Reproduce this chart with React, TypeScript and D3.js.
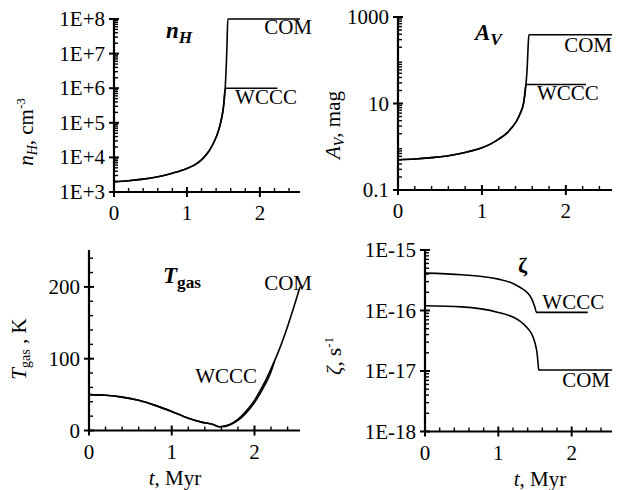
import React from "react";
import * as d3 from "d3";

// ---------- data ----------
const T_MAX = 2.55;
const xMajorTicks = [0, 1, 2];

// n_H, cm^-3
const nhSharedT = [0, 0.2, 0.4, 0.6, 0.8, 1.0, 1.1, 1.2, 1.3, 1.4, 1.45, 1.5, 1.525];
const nhSharedV = [2000, 2120, 2350, 2750, 3500, 4800, 6000, 8500, 15000, 38000, 80000, 280000, 1000000];
const nhComT = [1.54, 1.55, 1.56, 2.55];
const nhComV = [5e6, 2e7, 1e8, 1e8];
const nhWcccT = [2.24];
const nhWcccV = [1e6];
const nhTicks = [1e3, 1e4, 1e5, 1e6, 1e7, 1e8];

// A_V, mag
const avSharedT = [0, 0.2, 0.4, 0.6, 0.8, 1.0, 1.1, 1.2, 1.3, 1.4, 1.45, 1.5, 1.525];
const avSharedV = [0.5, 0.52, 0.56, 0.62, 0.74, 0.95, 1.15, 1.5, 2.1, 3.6, 5.5, 11, 27.5];
const avComT = [1.54, 1.55, 1.56, 2.55];
const avComV = [70, 200, 390, 390];
const avWcccT = [2.24];
const avWcccV = [27.5];
const avTicks = [0.1, 10, 1000];

// T_gas, K
const tgSharedT = [0, 0.2, 0.4, 0.6, 0.8, 1.0, 1.2, 1.36, 1.5, 1.57];
const tgSharedV = [50, 49, 46.5, 42, 35, 26.5, 17, 11.7, 8.5, 5.3];
const tgComT = [1.6, 1.7, 1.8, 1.9, 2.0, 2.1, 2.2, 2.3, 2.4, 2.5, 2.55];
const tgComV = [5.5, 8.5, 15.5, 27, 42, 62, 86, 113, 145, 181, 200];
const tgWcccT = [1.6, 1.7, 1.8, 1.9, 2.0, 2.1, 2.2, 2.245];
const tgWcccV = [5.2, 7.8, 14, 24.5, 39, 58, 82, 97];
const tgTicks = [0, 100, 200];

// zeta, s^-1
const zWcccT = [0, 0.5, 1.0, 1.2, 1.3, 1.4, 1.45, 1.5, 1.52, 2.22];
const zWcccV = [4.15e-16, 3.9e-16, 3.3e-16, 2.8e-16, 2.4e-16, 1.95e-16, 1.6e-16, 1.12e-16, 9.3e-17, 9.3e-17];
const zComT = [0, 0.5, 1.0, 1.2, 1.3, 1.4, 1.45, 1.5, 1.53, 1.545, 1.55, 2.55];
const zComV = [1.2e-16, 1.15e-16, 9.3e-17, 7.8e-17, 6.6e-17, 5.1e-17, 4.2e-17, 2.9e-17, 1.9e-17, 1.2e-17, 1.04e-17, 1.04e-17];
const zTicks = [1e-18, 1e-17, 1e-16, 1e-15];

const FONT = '"Liberation Serif"';
const BASE = 24; // render at 24px and scale down

type Pt = [number, number];
const zip = (t: number[], v: number[]): Pt[] => t.map((d, i) => [d, v[i]]);

const expFmt = (v: number) => {
  const e = Math.round(Math.log10(v));
  return e >= 0 ? `1E+${e}` : `1E-${-e}`;
};

function Txt(props: {
  x: number; y: number; size?: number; anchor?: string; rotate?: number;
  bold?: boolean; italic?: boolean; children: React.ReactNode;
}) {
  const size = props.size ?? 21;
  const k = size / BASE;
  const rot = props.rotate ? ` rotate(${props.rotate})` : "";
  return (
    <text
      transform={`translate(${props.x},${props.y})${rot} scale(${k})`}
      style={{ fontFamily: FONT, fontSize: BASE }}
      fontWeight={props.bold ? "bold" : "normal"}
      fontStyle={props.italic ? "italic" : "normal"}
      textAnchor={props.anchor ?? "start"}
      fill="#000"
    >
      {props.children}
    </text>
  );
}

interface Lbl { text: string; t: number; v: number; dx: number; dy: number; anchor: string }
interface PanelCfg {
  left: number; right: number; top: number; bottom: number;
  log: boolean; yDomain: [number, number];
  yTicks: number[]; yFmt: (v: number) => string; yMinor: number[];
  series: Pt[][];
  labels: Lbl[];
  title: React.ReactNode;
  yTitle: React.ReactNode; yTitleX: number; yTitleY: number;
  xTitle?: boolean; xTitleX?: number;
}

function logMinor(lo: number, hi: number) {
  const out: number[] = [];
  for (let e = Math.round(Math.log10(lo)); e < Math.round(Math.log10(hi)); e++) {
    for (let k = 2; k <= 9; k++) out.push(k * Math.pow(10, e));
  }
  return out;
}

function Panel({ c }: { c: PanelCfg }) {
  const x = d3.scaleLinear().domain([0, T_MAX]).range([c.left, c.right]);
  const y = (c.log ? d3.scaleLog() : d3.scaleLinear()).domain(c.yDomain).range([c.bottom, c.top]) as d3.ScaleContinuousNumeric<number, number>;
  const line = d3.line<Pt>().x((d) => x(d[0])).y((d) => y(d[1])).curve(d3.curveMonotoneX);
  const xMinor = d3.range(0.2, T_MAX, 0.2).filter((v) => Math.abs(v - Math.round(v)) > 1e-6);
  return (
    <g>
      {c.series.map((s, i) => (
        <path key={i} d={line(s) || ""} fill="none" stroke="#000" strokeWidth={1.6} />
      ))}
      <line x1={c.left} x2={c.left} y1={c.top - 1} y2={c.bottom + 1} stroke="#000" strokeWidth={2.2} />
      <line x1={c.left - 1} x2={c.right} y1={c.bottom} y2={c.bottom} stroke="#000" strokeWidth={2.2} />
      {c.yMinor.map((v, i) => (
        <line key={"ym" + i} x1={c.left} x2={c.left + 4} y1={y(v)} y2={y(v)} stroke="#000" strokeWidth={1.4} />
      ))}
      {c.yTicks.map((v, i) => (
        <g key={"yt" + i}>
          <line x1={c.left - 5} x2={c.left + 5} y1={y(v)} y2={y(v)} stroke="#000" strokeWidth={2} />
          <Txt x={c.left - 9} y={y(v) + 7} anchor="end">{c.yFmt(v)}</Txt>
        </g>
      ))}
      {xMinor.map((v, i) => (
        <line key={"xm" + i} x1={x(v)} x2={x(v)} y1={c.bottom} y2={c.bottom - 4} stroke="#000" strokeWidth={1.4} />
      ))}
      {xMajorTicks.map((v, i) => (
        <g key={"xt" + i}>
          <line x1={x(v)} x2={x(v)} y1={c.bottom - 5} y2={c.bottom + 5} stroke="#000" strokeWidth={2} />
          <Txt x={x(v)} y={c.bottom + 28} anchor="middle">{String(v)}</Txt>
        </g>
      ))}
      {c.labels.map((l, i) => (
        <Txt key={"l" + i} x={x(l.t) + l.dx} y={y(l.v) + l.dy} anchor={l.anchor}>{l.text}</Txt>
      ))}
      {c.title}
      <Txt x={c.yTitleX} y={c.yTitleY} rotate={-90} anchor="middle">{c.yTitle}</Txt>
      {c.xTitle && (
        <Txt x={c.xTitleX!} y={c.bottom + 54} anchor="middle">
          <tspan fontStyle="italic">t</tspan>, Myr
        </Txt>
      )}
    </g>
  );
}

// sub/superscript sizes in base (24px) units; Txt scales them down
const SUB = 16;
const SUP = 15;

export default function App() {
  const panels: PanelCfg[] = [
    {
      left: 114, right: 300, top: 19, bottom: 192,
      log: true, yDomain: [1e3, 1e8], yTicks: nhTicks, yFmt: expFmt, yMinor: logMinor(1e3, 1e8),
      series: [
        zip(nhSharedT.concat(nhComT), nhSharedV.concat(nhComV)),
        zip(nhSharedT.concat(nhWcccT), nhSharedV.concat(nhWcccV)),
      ],
      labels: [
        { text: "COM", t: T_MAX, v: 1e8, dx: 12, dy: 15, anchor: "end" },
        { text: "WCCC", t: 1.66, v: 1e6, dx: 0, dy: 16, anchor: "start" },
      ],
      title: (
        <Txt x={166} y={38} size={23} bold italic>
          n<tspan dy={5} fontSize={18}>H</tspan>
        </Txt>
      ),
      yTitle: (
        <>
          <tspan fontStyle="italic">n</tspan>
          <tspan fontStyle="italic" fontSize={SUB} dy={4.6}>H</tspan>
          <tspan dy={-4.6}>, cm</tspan>
          <tspan fontSize={SUP} dy={-9}>-3</tspan>
        </>
      ),
      yTitleX: 33, yTitleY: 132,
    },
    {
      left: 398, right: 612, top: 17, bottom: 190,
      log: true, yDomain: [0.1, 1000], yTicks: avTicks, yFmt: (v) => String(v), yMinor: logMinor(0.1, 1000),
      series: [
        zip(avSharedT.concat(avComT), avSharedV.concat(avComV)),
        zip(avSharedT.concat(avWcccT), avSharedV.concat(avWcccV)),
      ],
      labels: [
        { text: "COM", t: T_MAX, v: 390, dx: 0, dy: 17, anchor: "end" },
        { text: "WCCC", t: 1.655, v: 27.5, dx: 0, dy: 16, anchor: "start" },
      ],
      title: (
        <Txt x={475} y={40} size={23} bold italic>
          A<tspan dy={5} fontSize={18}>V</tspan>
        </Txt>
      ),
      yTitle: (
        <>
          <tspan fontStyle="italic">A</tspan>
          <tspan fontStyle="italic" fontSize={SUB} dy={4.6}>V</tspan>
          <tspan dy={-4.6}>, mag</tspan>
        </>
      ),
      yTitleX: 340, yTitleY: 125,
    },
    {
      left: 89, right: 300, top: 251, bottom: 430.5,
      log: false, yDomain: [0, 250], yTicks: tgTicks, yFmt: (v) => String(v), yMinor: d3.range(20, 250, 20).filter((v) => v % 100 !== 0),
      series: [
        zip(tgSharedT.concat(tgComT), tgSharedV.concat(tgComV)),
        zip(tgSharedT.concat(tgWcccT), tgSharedV.concat(tgWcccV)),
      ],
      labels: [
        { text: "COM", t: T_MAX, v: 200, dx: 12, dy: 3, anchor: "end" },
        { text: "WCCC", t: 2.03, v: 66, dx: 0, dy: 0, anchor: "end" },
      ],
      title: (
        <Txt x={163} y={283} size={23} bold>
          <tspan fontStyle="italic">T</tspan>
          <tspan dy={5} fontSize={18}>gas</tspan>
        </Txt>
      ),
      yTitle: (
        <>
          <tspan fontStyle="italic">T</tspan>
          <tspan fontSize={SUB} dy={4.6}>gas</tspan>
          <tspan dy={-4.6}> , K</tspan>
        </>
      ),
      yTitleX: 26, yTitleY: 349,
      xTitle: true, xTitleX: 175,
    },
    {
      left: 425, right: 612, top: 250, bottom: 431.5,
      log: true, yDomain: [1e-18, 1e-15], yTicks: zTicks, yFmt: expFmt, yMinor: logMinor(1e-18, 1e-15),
      series: [zip(zWcccT, zWcccV), zip(zComT, zComV)],
      labels: [
        { text: "WCCC", t: 1.6, v: 9.3e-17, dx: 0, dy: -3, anchor: "start" },
        { text: "COM", t: T_MAX, v: 1.04e-17, dx: -2, dy: 17, anchor: "end" },
      ],
      title: (
        <Txt x={518} y={273} size={22} bold>ζ</Txt>
      ),
      yTitle: (
        <>
          <tspan fontStyle="italic">ζ</tspan>
          <tspan>, s</tspan>
          <tspan fontSize={SUP} dy={-9}>-1</tspan>
        </>
      ),
      yTitleX: 341, yTitleY: 356,
      xTitle: true, xTitleX: 540,
    },
  ];
  return (
    <svg width={621} height={490} style={{ position: "absolute", left: 0, top: 0, background: "#fff" }}>
      <rect width={621} height={490} fill="#fff" />
      {panels.map((p, i) => (
        <Panel key={i} c={p} />
      ))}
    </svg>
  );
}
